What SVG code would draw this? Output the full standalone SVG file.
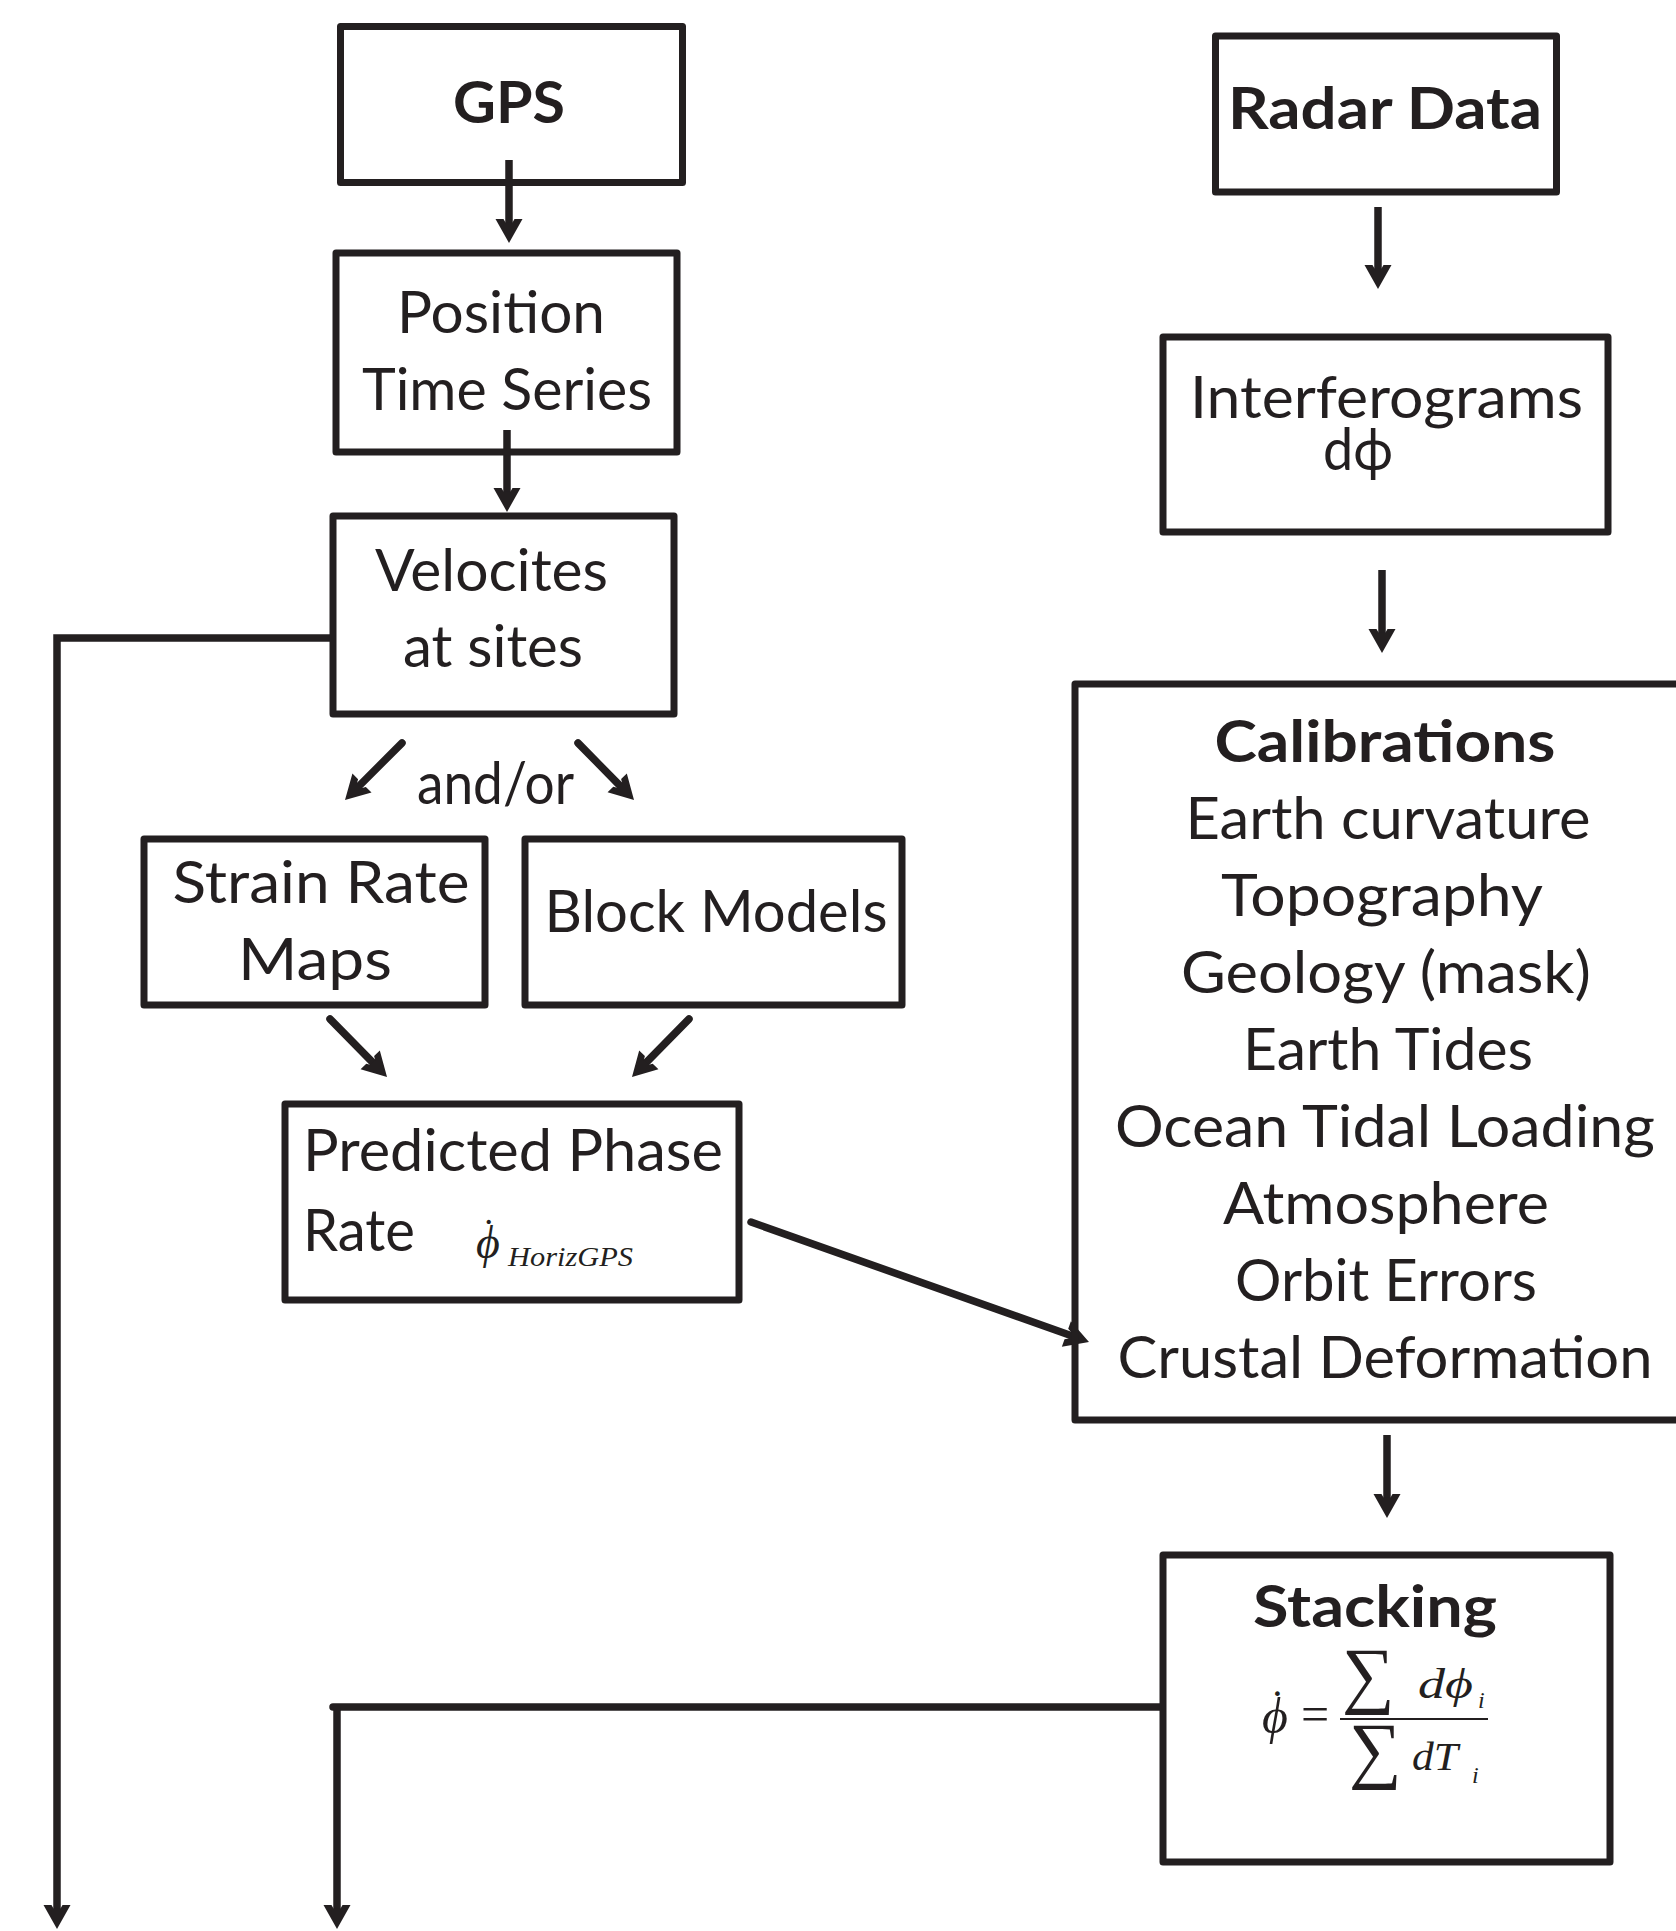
<svg xmlns="http://www.w3.org/2000/svg" width="1676" height="1931" viewBox="0 0 1676 1931">
<style>
.box{fill:none;stroke:#231f20;stroke-width:7;stroke-linejoin:round}
.ln{fill:none;stroke:#231f20;stroke-width:7.5;stroke-linejoin:miter}
.t{font-family:Lato,"Open Sans","DejaVu Sans",sans-serif;fill:#231f20;font-size:58px}
.b{font-weight:bold}
.m{font-family:"Liberation Serif","DejaVu Serif",serif;font-style:italic;fill:#231f20}
.mu{font-family:"Liberation Serif","DejaVu Serif",serif;fill:#231f20}
</style>
<defs>
<marker id="ah" markerUnits="userSpaceOnUse" orient="auto" refX="-14" refY="0" markerWidth="40" markerHeight="40" overflow="visible">
<path d="M0,0 L-24,-13.5 L-24,-5.5 L-20.5,-3.5 L-20.5,3.5 L-24,5.5 L-24,13.5 Z" fill="#231f20"/>
</marker>
</defs>
<rect width="1676" height="1931" fill="#ffffff"/>

<g id="connectors">
<line class="ln" x1="509" y1="160" x2="509" y2="229" marker-end="url(#ah)"/>
<line class="ln" x1="507" y1="430" x2="507" y2="498" marker-end="url(#ah)"/>
<line class="ln" x1="1378" y1="207" x2="1378" y2="275" marker-end="url(#ah)"/>
<line class="ln" x1="1382" y1="570" x2="1382" y2="639" marker-end="url(#ah)"/>
<line class="ln" x1="1387" y1="1435" x2="1387" y2="1504" marker-end="url(#ah)"/>
<line class="ln" x1="402" y1="743" x2="354.9" y2="790.1" stroke-linecap="round" marker-end="url(#ah)"/>
<line class="ln" x1="578" y1="743" x2="624.2" y2="790" stroke-linecap="round" marker-end="url(#ah)"/>
<line class="ln" x1="330" y1="1019" x2="377.2" y2="1067" stroke-linecap="round" marker-end="url(#ah)"/>
<line class="ln" x1="689" y1="1019" x2="641.8" y2="1067" stroke-linecap="round" marker-end="url(#ah)"/>
<line class="ln" x1="751" y1="1222" x2="1075.8" y2="1337.3" stroke-linecap="round" marker-end="url(#ah)"/>
<path class="ln" d="M333,638 H57 V1915" marker-end="url(#ah)"/>
<path class="ln" d="M1162,1707 H333" stroke-linecap="round"/>
<path class="ln" d="M337,1707 V1915" marker-end="url(#ah)"/>
</g>

<g id="gps">
<rect class="box" x="340.5" y="26.5" width="342" height="156"/>
<text class="t b" x="509" y="123" font-size="54" text-anchor="middle" textLength="112" lengthAdjust="spacingAndGlyphs">GPS</text>
</g>

<g id="position">
<rect class="box" x="336" y="253" width="341" height="199"/>
<text class="t" x="501" y="333" text-anchor="middle" textLength="208" lengthAdjust="spacingAndGlyphs">Position</text>
<text class="t" x="507" y="410" text-anchor="middle" textLength="290" lengthAdjust="spacingAndGlyphs">Time Series</text>
</g>

<g id="velocities">
<rect class="box" x="333" y="516" width="341" height="198"/>
<text class="t" x="491.5" y="591" text-anchor="middle" textLength="233" lengthAdjust="spacingAndGlyphs">Velocites</text>
<text class="t" x="493" y="667" text-anchor="middle" textLength="180" lengthAdjust="spacingAndGlyphs">at sites</text>
</g>

<g id="andor">
<text class="t" x="495.5" y="804" font-size="54" text-anchor="middle" textLength="157" lengthAdjust="spacingAndGlyphs">and/or</text>
</g>

<g id="strain">
<rect class="box" x="144" y="839" width="341" height="166"/>
<text class="t" x="321" y="903" text-anchor="middle" textLength="297" lengthAdjust="spacingAndGlyphs">Strain Rate</text>
<text class="t" x="315" y="980" text-anchor="middle" textLength="154" lengthAdjust="spacingAndGlyphs">Maps</text>
</g>

<g id="block">
<rect class="box" x="525" y="839" width="377" height="166"/>
<text class="t" x="716" y="932" text-anchor="middle" textLength="343" lengthAdjust="spacingAndGlyphs">Block Models</text>
</g>

<g id="predicted">
<rect class="box" x="285" y="1104" width="454" height="196"/>
<text class="t" x="303" y="1171" textLength="420" lengthAdjust="spacingAndGlyphs">Predicted Phase</text>
<text class="t" x="303" y="1251" textLength="112" lengthAdjust="spacingAndGlyphs">Rate</text>
<text class="m" x="476" y="1258" font-size="46">ϕ</text>
<text class="mu" x="482" y="1246" font-size="40">˙</text>
<text class="m" x="508" y="1266" font-size="28" textLength="125" lengthAdjust="spacingAndGlyphs">HorizGPS</text>
</g>

<g id="radar">
<rect class="box" x="1215.5" y="36" width="341" height="156"/>
<text class="t b" x="1385" y="129" font-size="54" text-anchor="middle" textLength="314" lengthAdjust="spacingAndGlyphs">Radar Data</text>
</g>

<g id="interferograms">
<rect class="box" x="1163" y="337" width="445" height="195"/>
<text class="t" x="1386.5" y="418" font-size="52" text-anchor="middle" textLength="393" lengthAdjust="spacingAndGlyphs">Interferograms</text>
<text class="t" x="1358" y="470" font-size="52" text-anchor="middle" textLength="70" lengthAdjust="spacingAndGlyphs">dϕ</text>
</g>

<g id="calibrations">
<rect class="box" x="1075" y="684" width="700" height="736"/>
<text class="t b" x="1385" y="762" font-size="58" text-anchor="middle" textLength="341" lengthAdjust="spacingAndGlyphs">Calibrations</text>
<text class="t" x="1388" y="839" font-size="55" text-anchor="middle" textLength="405" lengthAdjust="spacingAndGlyphs">Earth curvature</text>
<text class="t" x="1382" y="916" font-size="55" text-anchor="middle" textLength="322" lengthAdjust="spacingAndGlyphs">Topography</text>
<text class="t" x="1386" y="993" font-size="55" text-anchor="middle" textLength="410" lengthAdjust="spacingAndGlyphs">Geology (mask)</text>
<text class="t" x="1388" y="1070" font-size="55" text-anchor="middle" textLength="290" lengthAdjust="spacingAndGlyphs">Earth Tides</text>
<text class="t" x="1385" y="1147" font-size="55" text-anchor="middle" textLength="540" lengthAdjust="spacingAndGlyphs">Ocean Tidal Loading</text>
<text class="t" x="1386" y="1224" font-size="55" text-anchor="middle" textLength="326" lengthAdjust="spacingAndGlyphs">Atmosphere</text>
<text class="t" x="1386" y="1301" font-size="55" text-anchor="middle" textLength="302" lengthAdjust="spacingAndGlyphs">Orbit Errors</text>
<text class="t" x="1385" y="1378" font-size="55" text-anchor="middle" textLength="535" lengthAdjust="spacingAndGlyphs">Crustal Deformation</text>
</g>

<g id="stacking">
<rect class="box" x="1163" y="1555" width="447" height="307"/>
<text class="t b" x="1375" y="1627" font-size="58" text-anchor="middle" textLength="244" lengthAdjust="spacingAndGlyphs">Stacking</text>
<text class="m" x="1262" y="1733" font-size="50">ϕ</text>
<text class="mu" x="1270" y="1721" font-size="44">˙</text>
<text class="mu" x="1301" y="1731" font-size="50">=</text>
<line x1="1340" y1="1719" x2="1488" y2="1719" stroke="#231f20" stroke-width="2"/>
<text class="mu" x="1342" y="1699" font-size="74">∑</text>
<text class="m" x="1418" y="1698" font-size="42" textLength="55" lengthAdjust="spacingAndGlyphs">dϕ</text>
<text class="m" x="1478" y="1708" font-size="24">i</text>
<text class="mu" x="1349" y="1774" font-size="74">∑</text>
<text class="m" x="1412" y="1770" font-size="40" textLength="46" lengthAdjust="spacingAndGlyphs">dT</text>
<text class="m" x="1472" y="1783" font-size="24">i</text>
</g>
</svg>
